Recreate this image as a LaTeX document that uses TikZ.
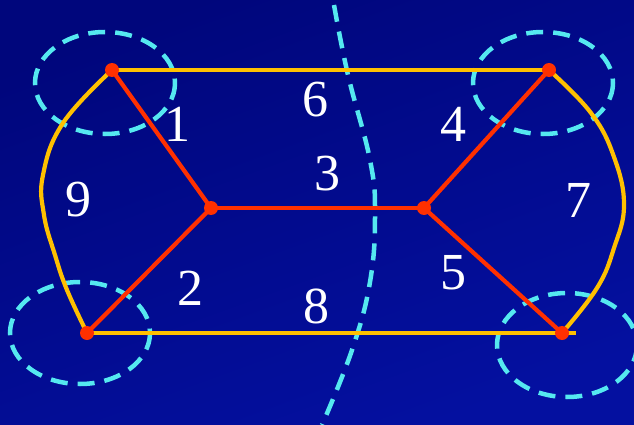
\documentclass[tikz,border=0pt]{standalone}
\usepackage{fontspec}
\setmainfont{Liberation Serif}
\definecolor{bgdark}{HTML}{00067C}
\definecolor{bglight}{HTML}{0410A0}
\definecolor{edgeyellow}{HTML}{FFC000}
\definecolor{edgered}{HTML}{FF3000}
\definecolor{dashcyan}{HTML}{55E8F0}
\begin{document}
\begin{tikzpicture}[x=1pt,y=-1pt,
  dot/.style={circle,fill=edgered,inner sep=0pt,minimum size=14pt},
  redge/.style={draw=edgered,line width=4.2pt},
  yedge/.style={draw=edgeyellow,line width=4.2pt},
  cut/.style={draw=dashcyan,line width=4.5pt,dash pattern=on 17pt off 10pt},
  num/.style={text=white,font=\fontsize{52}{52}\selectfont,inner sep=0pt}]
\shade[top color=bgdark,bottom color=bglight,shading angle=20] (0,0) rectangle (634,425);
\useasboundingbox (0,0) rectangle (634,425);
% cut ellipses
\draw[cut] (105,83) ellipse [x radius=70, y radius=51];
\draw[cut] (543,83) ellipse [x radius=70, y radius=51];
\draw[cut] (80,333) ellipse [x radius=70, y radius=51];
\draw[cut] (567,345) ellipse [x radius=70, y radius=52];
% cut curve
\draw[cut] plot[smooth,tension=0.7] coordinates {(334,5) (348,75) (370,160) (375,215) (370,282) (352,350) (322,425)};
% nodes
\coordinate (tl) at (112,70);
\coordinate (tr) at (549,70);
\coordinate (bl) at (87,333);
\coordinate (br) at (562,333);
\coordinate (ml) at (211,208);
\coordinate (mr) at (424,208);
\coordinate (bend) at (576,333);
% yellow edges
\draw[yedge] (tl) -- (tr);
\draw[yedge] (bl) -- (bend);
\draw[yedge] plot[smooth,tension=0.7] coordinates {(112,70) (63,123) (43,175) (44,215) (55,255) (67,290) (87,333)};
\draw[yedge] plot[smooth,tension=0.7] coordinates {(549,70) (591,113) (614,157) (624,205) (614,248) (597,288) (562,333)};
% red edges
\draw[redge] (tl) -- (ml);
\draw[redge] (ml) -- (bl);
\draw[redge] (ml) -- (mr);
\draw[redge] (mr) -- (tr);
\draw[redge] (mr) -- (br);
% dots
\node[dot] (ntl) at (tl) {};
\node[dot] (ntr) at (tr) {};
\node[dot] (nbl) at (bl) {};
\node[dot] (nbr) at (br) {};
\node[dot] (nml) at (ml) {};
\node[dot] (nmr) at (mr) {};
% labels
\node[num] (l1) at (177,124) {1};
\node[num] (l2) at (190,288) {2};
\node[num] (l3) at (327,174) {3};
\node[num] (l4) at (453,124) {4};
\node[num] (l5) at (453,273) {5};
\node[num] (l6) at (315,100) {6};
\node[num] (l7) at (578,200) {7};
\node[num] (l8) at (316,306) {8};
\node[num] (l9) at (78,200) {9};
\end{tikzpicture}
\end{document}
